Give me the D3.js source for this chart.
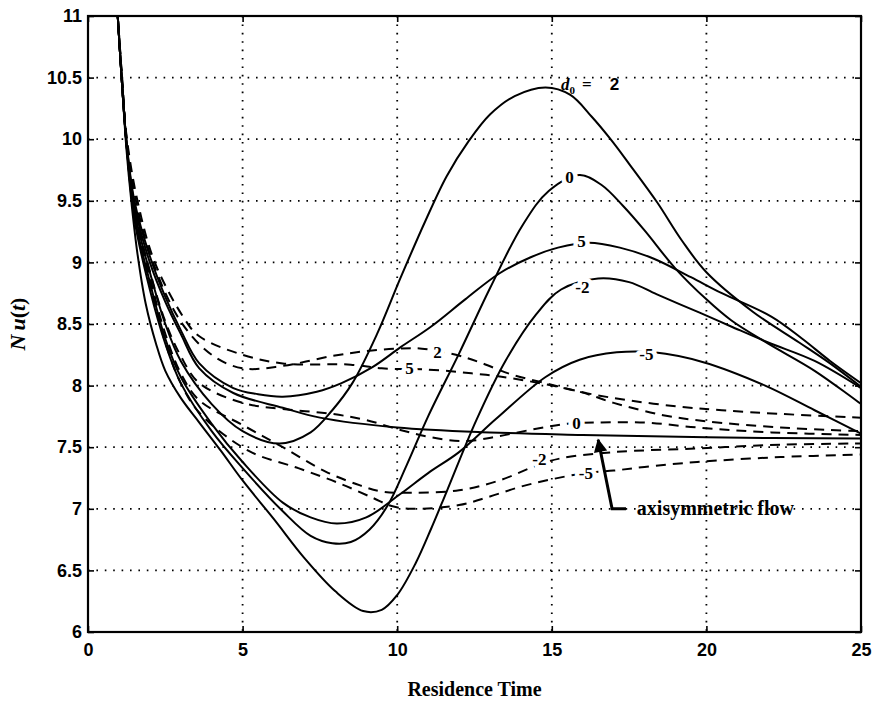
<!DOCTYPE html>
<html>
<head>
<meta charset="utf-8">
<script src="https://cdn.jsdelivr.net/npm/d3@7"></script>
<style>
  body { margin: 0; background: #fff; }
  svg { display: block; }
</style>
</head>
<body>
<svg id="chart"></svg>
<script>
const width = 872;
const height = 706;
const margin = {top: 16, right: 11, bottom: 74, left: 88};

// Data: [residence time, Nu(t)]

const solidD2 = [[0.95,11.05],[1.1,10.45],[1.25,9.95],[1.5,9.42],[2,8.92],[2.5,8.5],[3,8.2],[4,7.85],[5,7.63],[6.2,7.53],[7.2,7.62],[7.9,7.8],[8.55,8.02],[9.35,8.42],[10.1,8.87],[10.9,9.33],[11.6,9.7],[12.3,9.98],[13,10.2],[13.8,10.35],[14.8,10.42],[15.6,10.36],[16.3,10.18],[16.9,10.0],[17.5,9.8],[18.4,9.49],[19.2,9.18],[20,8.92],[21.5,8.6],[23,8.35],[24,8.18],[25,7.99]];
const solidD0 = [[0.95,11.05],[1.1,10.45],[1.25,9.95],[1.5,9.35],[2,8.78],[2.5,8.34],[3,8.02],[4,7.63],[5,7.33],[6.3,6.98],[7.2,6.78],[7.9,6.72],[8.5,6.73],[9.1,6.83],[9.7,7.03],[10.3,7.35],[11,7.75],[12,8.26],[13,8.79],[14.05,9.3],[14.9,9.58],[15.9,9.71],[16.6,9.63],[17.3,9.46],[18,9.26],[19,8.95],[20,8.7],[20.8,8.53],[22,8.34],[23.5,8.12],[25,7.85]];
const solidD5 = [[0.95,11.05],[1.1,10.45],[1.25,9.97],[1.5,9.5],[2,9.05],[2.5,8.72],[3,8.45],[3.6,8.18],[4.7,7.98],[5.5,7.93],[6.3,7.91],[7.4,7.95],[8.2,8.02],[9.2,8.15],[10.1,8.31],[11.1,8.48],[12.2,8.7],[13.3,8.91],[14.3,9.04],[15.2,9.12],[16.2,9.16],[17.2,9.12],[18.3,9.03],[19.5,8.88],[20.5,8.75],[22.1,8.56],[23.1,8.38],[24,8.2],[25,8.02]];
const solidDm2 = [[0.95,11.05],[1.1,10.45],[1.25,9.9],[1.4,9.5],[1.6,9.07],[1.87,8.66],[2.2,8.34],[2.5,8.12],[3,7.9],[3.6,7.7],[4.3,7.47],[5,7.23],[6,6.92],[7,6.6],[8,6.33],[8.9,6.17],[9.5,6.18],[10,6.3],[10.6,6.56],[11.1,6.84],[11.6,7.14],[12.56,7.72],[13.5,8.2],[14.5,8.58],[15.3,8.78],[16.5,8.87],[17.5,8.84],[18.4,8.74],[19.8,8.59],[20.8,8.48],[22,8.35],[23.5,8.2],[25,7.98]];
const solidDm5 = [[0.95,11.05],[1.1,10.45],[1.25,9.95],[1.5,9.38],[2,8.84],[2.5,8.38],[3,8.07],[4,7.69],[5,7.38],[6.3,7.05],[7.2,6.93],[8.04,6.88],[9,6.93],[10.1,7.12],[11,7.29],[12,7.46],[13.2,7.73],[14.8,8.07],[15.9,8.21],[17.1,8.27],[18.3,8.27],[19.9,8.19],[21.9,8.0],[23.5,7.8],[25,7.61]];
const axisym = [[0.95,11.05],[1.1,10.45],[1.25,9.96],[1.5,9.47],[2,9.0],[2.5,8.68],[3,8.42],[3.6,8.14],[4.7,7.94],[6.3,7.82],[7.5,7.74],[10,7.66],[13,7.62],[16,7.6],[20,7.58],[25,7.57]];

const dashD2 = [[0.95,11.05],[1.1,10.5],[1.25,10.0],[1.55,9.5],[2.1,9.0],[3,8.52],[4,8.25],[5,8.14],[6.3,8.16],[7.9,8.24],[9,8.28],[10,8.3],[10.8,8.3],[11.9,8.25],[12.66,8.19],[13.7,8.09],[14.8,8.02],[16.1,7.94],[17.5,7.88],[19.1,7.83],[20.5,7.8],[22.4,7.77],[25,7.74]];
const dashD5 = [[0.95,11.05],[1.1,10.5],[1.25,10.02],[1.6,9.5],[2.16,9.0],[3.1,8.55],[3.6,8.4],[5,8.25],[6.3,8.18],[8.5,8.17],[9.5,8.14],[11,8.13],[12.4,8.1],[13.7,8.06],[15.9,7.95],[17,7.86],[18.6,7.76],[20,7.71],[22.4,7.66],[25,7.63]];
const dashD0 = [[0.95,11.05],[1.1,10.48],[1.25,9.98],[1.5,9.45],[2,8.93],[2.5,8.52],[3,8.24],[3.6,8.02],[5,7.86],[6.3,7.81],[7.9,7.77],[9,7.72],[10.1,7.64],[11.1,7.58],[12.2,7.55],[13.3,7.59],[14.5,7.65],[15.5,7.69],[16.4,7.7],[18,7.7],[19.7,7.66],[22.1,7.62],[25,7.6]];
const dashDm2 = [[0.95,11.05],[1.1,10.47],[1.25,9.96],[1.5,9.42],[2,8.88],[2.5,8.42],[3,8.1],[3.6,7.88],[5,7.68],[6.3,7.5],[7.7,7.3],[8.8,7.19],[9.5,7.14],[10.5,7.13],[12,7.15],[13.3,7.23],[14.6,7.36],[15.3,7.41],[17,7.46],[19.7,7.49],[22.4,7.52],[25,7.53]];
const dashDm5 = [[0.95,11.05],[1.1,10.46],[1.25,9.94],[1.5,9.4],[2,8.83],[2.5,8.35],[3,8.02],[3.6,7.78],[5.2,7.47],[6.8,7.33],[8.1,7.21],[9.2,7.09],[9.85,7.02],[10.5,7.0],[12,7.03],[13,7.1],[14,7.18],[15,7.24],[16.1,7.29],[17,7.31],[18,7.34],[19.7,7.38],[22.4,7.42],[25,7.44]];

const solidSeries = [solidD2, solidD0, solidD5, solidDm2, solidDm5, axisym];
const dashedSeries = [dashD2, dashD5, dashD0, dashDm2, dashDm5];

// curve labels: [text, t, Nu]
const curveLabels = [
    ['0', 15.57, 9.69], ['5', 15.96, 9.17], ['-2', 15.99, 8.8], ['-5', 18.06, 8.26],
    ['2', 11.3, 8.27], ['5', 10.4, 8.14], ['0', 15.8, 7.7], ['-2', 14.6, 7.4], ['-5', 16.1, 7.29]
];

const xTicks = [0, 5, 10, 15, 20, 25];
const yTicks = [6, 6.5, 7, 7.5, 8, 8.5, 9, 9.5, 10, 10.5, 11];

const svg = d3.select('#chart')
    .attr('width', width)
    .attr('height', height);

const x = d3.scaleLinear()
    .domain([0, 25])
    .range([margin.left, width - margin.right]);

const y = d3.scaleLinear()
    .domain([6, 11])
    .range([height - margin.bottom, margin.top]);

const defs = svg.append('defs');

defs.append('clipPath')
    .attr('id', 'plot-clip')
    .append('rect')
    .attr('x', x(0))
    .attr('y', y(11))
    .attr('width', x(25) - x(0))
    .attr('height', y(6) - y(11));

// Grid

const grid = svg.append('g')
    .attr('stroke', '#000')
    .attr('stroke-width', 1.8)
    .attr('stroke-dasharray', '1.6,6.8');

grid.selectAll('.vgrid')
    .data(xTicks.slice(1, -1))
    .enter().append('line')
    .attr('x1', d => x(d)).attr('x2', d => x(d))
    .attr('y1', y(11)).attr('y2', y(6));

grid.selectAll('.hgrid')
    .data(yTicks.slice(1, -1))
    .enter().append('line')
    .attr('x1', x(0)).attr('x2', x(25))
    .attr('y1', d => y(d)).attr('y2', d => y(d));

// Axes

const tickFont = '"Liberation Sans", Arial, sans-serif';
const serif = '"Liberation Serif", "Times New Roman", serif';

const xAxis = d3.axisBottom(x).tickValues(xTicks).tickSize(-6).tickPadding(10).tickFormat(d3.format('d'));
const yAxis = d3.axisLeft(y).tickValues(yTicks).tickSize(-6).tickPadding(6).tickFormat(d => d);
const xAxisTop = d3.axisTop(x).tickValues(xTicks).tickSize(-6).tickFormat('');
const yAxisRight = d3.axisRight(y).tickValues(yTicks).tickSize(-6).tickFormat('');

function styleAxis(g) {
    g.select('.domain').remove();
    g.selectAll('.tick line').attr('stroke', '#000').attr('stroke-width', 1.6);
    g.selectAll('text')
        .attr('fill', '#000')
        .attr('font-family', tickFont)
        .attr('font-weight', 'bold')
        .attr('font-size', 18);
}

svg.append('g')
    .attr('transform', `translate(0,${y(6)})`)
    .call(xAxis)
    .call(styleAxis)
    .selectAll('text').attr('dy', '0.75em');

svg.append('g')
    .attr('transform', `translate(${x(0)},0)`)
    .call(yAxis)
    .call(styleAxis);

svg.append('g')
    .attr('transform', `translate(0,${y(11)})`)
    .call(xAxisTop)
    .call(styleAxis);

svg.append('g')
    .attr('transform', `translate(${x(25)},0)`)
    .call(yAxisRight)
    .call(styleAxis);

// Curves

const line = d3.line()
    .x(d => x(d[0]))
    .y(d => y(d[1]))
    .curve(d3.curveCatmullRom.alpha(0.5));

const curves = svg.append('g').attr('clip-path', 'url(#plot-clip)');

curves.selectAll('.solid')
    .data(solidSeries)
    .enter().append('path')
    .attr('class', 'solid')
    .attr('d', line)
    .attr('fill', 'none')
    .attr('stroke', '#000')
    .attr('stroke-width', 2);

curves.selectAll('.dashed')
    .data(dashedSeries)
    .enter().append('path')
    .attr('class', 'dashed')
    .attr('d', line)
    .attr('fill', 'none')
    .attr('stroke', '#000')
    .attr('stroke-width', 2)
    .attr('stroke-dasharray', '10,7');

// Frame
svg.append('rect')
    .attr('x', x(0))
    .attr('y', y(11))
    .attr('width', x(25) - x(0))
    .attr('height', y(6) - y(11))
    .attr('fill', 'none')
    .attr('stroke', '#000')
    .attr('stroke-width', 2.2);

// Curve labels, with a white halo so the lines break around them
svg.selectAll('.curve-label')
    .data(curveLabels)
    .enter().append('text')
    .attr('class', 'curve-label')
    .attr('x', d => x(d[1]))
    .attr('y', d => y(d[2]))
    .attr('dy', '0.35em')
    .attr('text-anchor', 'middle')
    .attr('font-family', serif)
    .attr('font-weight', 'bold')
    .attr('font-size', 17)
    .attr('stroke', '#fff')
    .attr('stroke-width', 9)
    .attr('stroke-linejoin', 'round')
    .attr('paint-order', 'stroke')
    .attr('fill', '#000')
    .text(d => d[0]);

// d0 = 2
const d0 = svg.append('text')
    .attr('x', x(15.3))
    .attr('y', y(10.4))
    .attr('font-family', serif)
    .attr('font-weight', 'bold')
    .attr('font-size', 17)
    .attr('fill', '#000');
d0.append('tspan').attr('font-style', 'italic').text('d');
d0.append('tspan').attr('font-size', 11).attr('dy', 4).text('0');
d0.append('tspan').attr('dy', -4).attr('dx', 7).text('=');
d0.append('tspan').attr('dx', 18).attr('font-family', tickFont).text('2');

// axisymmetric flow annotation
defs.append('marker')
    .attr('id', 'arrowhead')
    .attr('viewBox', '0 0 10 10')
    .attr('refX', 9).attr('refY', 5)
    .attr('markerWidth', 5).attr('markerHeight', 4.5)
    .attr('orient', 'auto')
    .append('path')
    .attr('d', 'M0,0 L10,5 L0,10 Z')
    .attr('fill', '#000');

svg.append('path')
    .attr('d', `M${x(17.4)},${y(7.0)} L${x(16.95)},${y(7.0)} L${x(16.5)},${y(7.56)}`)
    .attr('fill', 'none')
    .attr('stroke', '#000')
    .attr('stroke-width', 3)
    .attr('marker-end', 'url(#arrowhead)');

svg.append('text')
    .attr('x', x(17.75))
    .attr('y', y(7.0))
    .attr('dy', '0.3em')
    .attr('font-family', serif)
    .attr('font-weight', 'bold')
    .attr('font-size', 20)
    .attr('fill', '#000')
    .text('axisymmetric flow');

// Axis titles
svg.append('text')
    .attr('x', (x(0) + x(25)) / 2)
    .attr('y', 696)
    .attr('text-anchor', 'middle')
    .attr('font-family', serif)
    .attr('font-weight', 'bold')
    .attr('font-size', 20)
    .text('Residence Time');

const yTitle = svg.append('text')
    .attr('transform', `translate(25,${(y(6) + y(11)) / 2}) rotate(-90)`)
    .attr('text-anchor', 'middle')
    .attr('font-family', serif)
    .attr('font-weight', 'bold')
    .attr('font-style', 'italic')
    .attr('font-size', 22);
yTitle.append('tspan').text('N');
yTitle.append('tspan').attr('dx', 4).text('u');
yTitle.append('tspan').attr('font-style', 'normal').text('(');
yTitle.append('tspan').text('t');
yTitle.append('tspan').attr('font-style', 'normal').text(')');
</script>
</body>
</html>
